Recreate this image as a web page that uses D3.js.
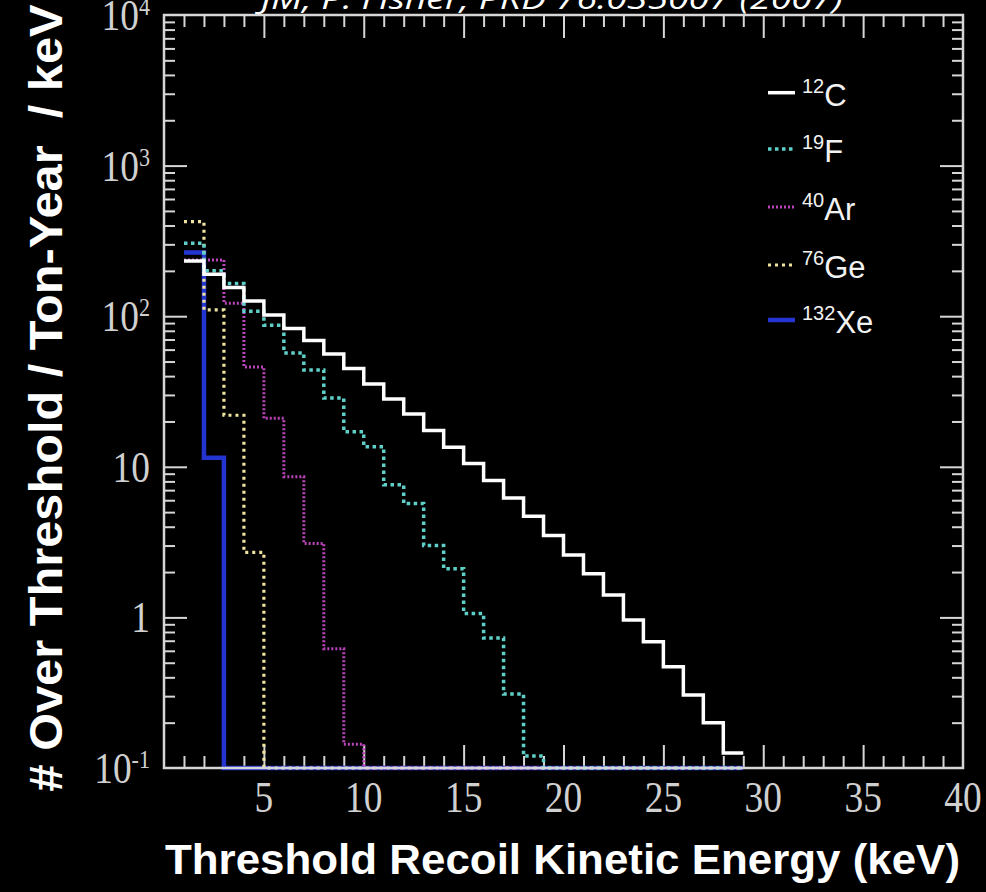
<!DOCTYPE html>
<html>
<head>
<meta charset="utf-8">
<script src="https://cdn.jsdelivr.net/npm/d3@7"></script>
<style>
  body { margin: 0; background: #000; }
  svg { display: block; }
</style>
</head>
<body>
<div id="chart"></div>
<script>
// bin lower edges in keV (each bin is 1 keV wide, last edge 29)
const binEdges = d3.range(1, 30);

// # over threshold per ton-year per keV, one value per bin
const c12  = [233, 190, 155, 126, 102, 83, 69, 56, 45, 35.5, 28.2, 22.4, 17.4, 13.5, 10.5, 8.1, 6.2, 4.7, 3.5, 2.6, 1.95, 1.41, 0.96, 0.69, 0.47, 0.305, 0.2, 0.126];
const f19  = [305, 200, 165, 108, 87, 57, 44, 28.6, 17.1, 13.6, 7.6, 5.7, 3.0, 2.1, 1.06, 0.73, 0.31, 0.12, 0, 0, 0, 0, 0, 0, 0, 0, 0, 0];
const ar40 = [236, 236, 122, 46, 21, 8.6, 3.1, 0.62, 0.144, 0, 0, 0, 0, 0, 0, 0, 0, 0, 0, 0, 0, 0, 0, 0, 0, 0, 0, 0];
const ge76 = [424, 110, 22, 2.7, 0, 0, 0, 0, 0, 0, 0, 0, 0, 0, 0, 0, 0, 0, 0, 0, 0, 0, 0, 0, 0, 0, 0, 0];
const xe132 = [265, 11.5, 0, 0, 0, 0, 0, 0, 0, 0, 0, 0, 0, 0, 0, 0, 0, 0, 0, 0, 0, 0, 0, 0, 0, 0, 0, 0];

const isotopes = ["12", "19", "40", "76", "132"];
const elements = ["C", "F", "Ar", "Ge", "Xe"];

const xTicks = [5, 10, 15, 20, 25, 30, 35, 40];
const yTicks = [0.1, 1, 10, 100, 1000, 10000];
const yTickBase = ["10", "1", "10", "10", "10", "10"];
const yTickExp = ["-1", "", "", "2", "3", "4"];

const W = 986, H = 892;
const plotL = 164, plotR = 963, plotT = 15, plotB = 768;

const svg = d3.select("#chart").append("svg")
    .attr("width", W)
    .attr("height", H)
    .style("background", "#000");

const x = d3.scaleLinear().domain([0, 40]).range([plotL, plotR]);
const y = d3.scaleLog().domain([0.1, 1e4]).range([plotB, plotT]);

const axisColor = "#d6d6d6";

// ticks (inside the frame, mirrored on all four sides)
const minorX = d3.range(1, 40).filter(d => d % 5 !== 0);
const majorX = [5, 10, 15, 20, 25, 30, 35];
const minorY = [];
[0.1, 1, 10, 100, 1000].forEach(dec => { for (let k = 2; k <= 9; k++) minorY.push(dec * k); });
const majorY = [1, 10, 100, 1000];

function styleAxis(g) {
    g.select(".domain").remove();
    g.selectAll(".tick line").attr("stroke", axisColor).attr("stroke-width", 2);
    g.selectAll(".tick text").remove();
}

[[minorX, 12], [majorX, 23]].forEach(([vals, len]) => {
    svg.append("g").attr("transform", `translate(0,${plotB})`)
        .call(d3.axisBottom(x).tickValues(vals).tickSizeInner(-len).tickSizeOuter(0)).call(styleAxis);
    svg.append("g").attr("transform", `translate(0,${plotT})`)
        .call(d3.axisTop(x).tickValues(vals).tickSizeInner(-len).tickSizeOuter(0)).call(styleAxis);
});
[[minorY, 11], [majorY, 23]].forEach(([vals, len]) => {
    svg.append("g").attr("transform", `translate(${plotL},0)`)
        .call(d3.axisLeft(y).tickValues(vals).tickSizeInner(-len).tickSizeOuter(0)).call(styleAxis);
    svg.append("g").attr("transform", `translate(${plotR},0)`)
        .call(d3.axisRight(y).tickValues(vals).tickSizeInner(-len).tickSizeOuter(0)).call(styleAxis);
});

// histograms (Xe first so the dotted ones sit on top of it along the floor)
const series = [
    { vals: xe132, color: "#2434d0", width: 4.5, dash: null },
    { vals: ge76,  color: "#eee3a0", width: 3.2, dash: "3,4" },
    { vals: ar40,  color: "#bb44bb", width: 3,   dash: "2,2" },
    { vals: f19,   color: "#5fd0c8", width: 3.5, dash: "3.5,3.5" },
    { vals: c12,   color: "#ffffff", width: 3.5, dash: null }
];

const step = d3.line()
    .x(d => x(d[0]))
    .y(d => y(Math.max(d[1], 0.1)))
    .curve(d3.curveStepAfter);

series.forEach(s => {
    const pts = s.vals.map((v, i) => [binEdges[i], v]);
    pts.push([binEdges[binEdges.length - 1], s.vals[s.vals.length - 1]]);
    svg.append("path")
        .attr("d", step(pts))
        .attr("fill", "none")
        .attr("stroke", s.color)
        .attr("stroke-width", s.width)
        .attr("stroke-dasharray", s.dash);
});

// frame
svg.append("rect")
    .attr("x", plotL).attr("y", plotT)
    .attr("width", plotR - plotL).attr("height", plotB - plotT)
    .attr("fill", "none")
    .attr("stroke", axisColor)
    .attr("stroke-width", 2.5);

// tick labels
svg.selectAll(".xlab").data(xTicks).enter().append("text")
    .attr("transform", d => `translate(${x(d)},812) scale(0.85,1)`)
    .attr("text-anchor", "middle")
    .style("font-family", "'Liberation Serif', serif")
    .style("font-size", "44px")
    .attr("fill", "#d0d0d0")
    .text(d => d);

const yl = svg.selectAll(".ylab").data(yTicks).enter().append("text")
    .attr("transform", d => `translate(150,${y(d) + 15}) scale(0.85,1)`)
    .attr("text-anchor", "end")
    .style("font-family", "'Liberation Serif', serif")
    .style("font-size", "44px")
    .attr("fill", "#d0d0d0");
yl.append("tspan").text((d, i) => yTickBase[i]);
yl.append("tspan")
    .attr("dy", -15)
    .style("font-size", "26px")
    .text((d, i) => yTickExp[i]);

// legend
const legY = [92.7, 149, 207, 265, 320];
const legend = svg.append("g");
[c12, f19, ar40, ge76, xe132].forEach((vals, i) => {
    const s = series.find(t => t.vals === vals);
    legend.append("line")
        .attr("x1", 768).attr("x2", 795)
        .attr("y1", legY[i]).attr("y2", legY[i])
        .attr("stroke", s.color)
        .attr("stroke-width", s.width)
        .attr("stroke-dasharray", s.dash);
    const t = legend.append("text")
        .attr("x", 802).attr("y", legY[i] + 13)
        .style("font-family", "'Liberation Sans', Arial, sans-serif")
        .attr("fill", "#f2f2f2");
    t.append("tspan").attr("dy", -13).style("font-size", "20px").text(isotopes[i]);
    t.append("tspan").attr("dy", 13).style("font-size", "31px").text(elements[i]);
});

// axis titles
svg.append("text")
    .attr("x", 165).attr("y", 874)
    .attr("textLength", 795)
    .attr("lengthAdjust", "spacingAndGlyphs")
    .style("font-family", "'Liberation Sans', Arial, sans-serif")
    .style("font-weight", "bold")
    .style("font-size", "42px")
    .attr("fill", "#fff")
    .text("Threshold Recoil Kinetic Energy (keV)");

svg.append("text")
    .attr("transform", "translate(62,398) rotate(-90)")
    .attr("text-anchor", "middle")
    .attr("textLength", 787)
    .attr("lengthAdjust", "spacingAndGlyphs")
    .style("font-family", "'Liberation Sans', Arial, sans-serif")
    .style("font-weight", "bold")
    .style("font-size", "46px")
    .style("white-space", "pre")
    .attr("fill", "#fff")
    .text("# Over Threshold / Ton-Year  / keV");

// citation at the top (cut by the page edge as in the original)
svg.append("text")
    .attr("x", 261).attr("y", 9)
    .attr("textLength", 582)
    .attr("lengthAdjust", "spacingAndGlyphs")
    .style("font-family", "'Open Sans', sans-serif")
    .style("font-style", "italic")
    .style("font-size", "30px")
    .attr("fill", "#fff")
    .text("JM, P. Fisher, PRD 76:035007 (2007)");
</script>
</body>
</html>
